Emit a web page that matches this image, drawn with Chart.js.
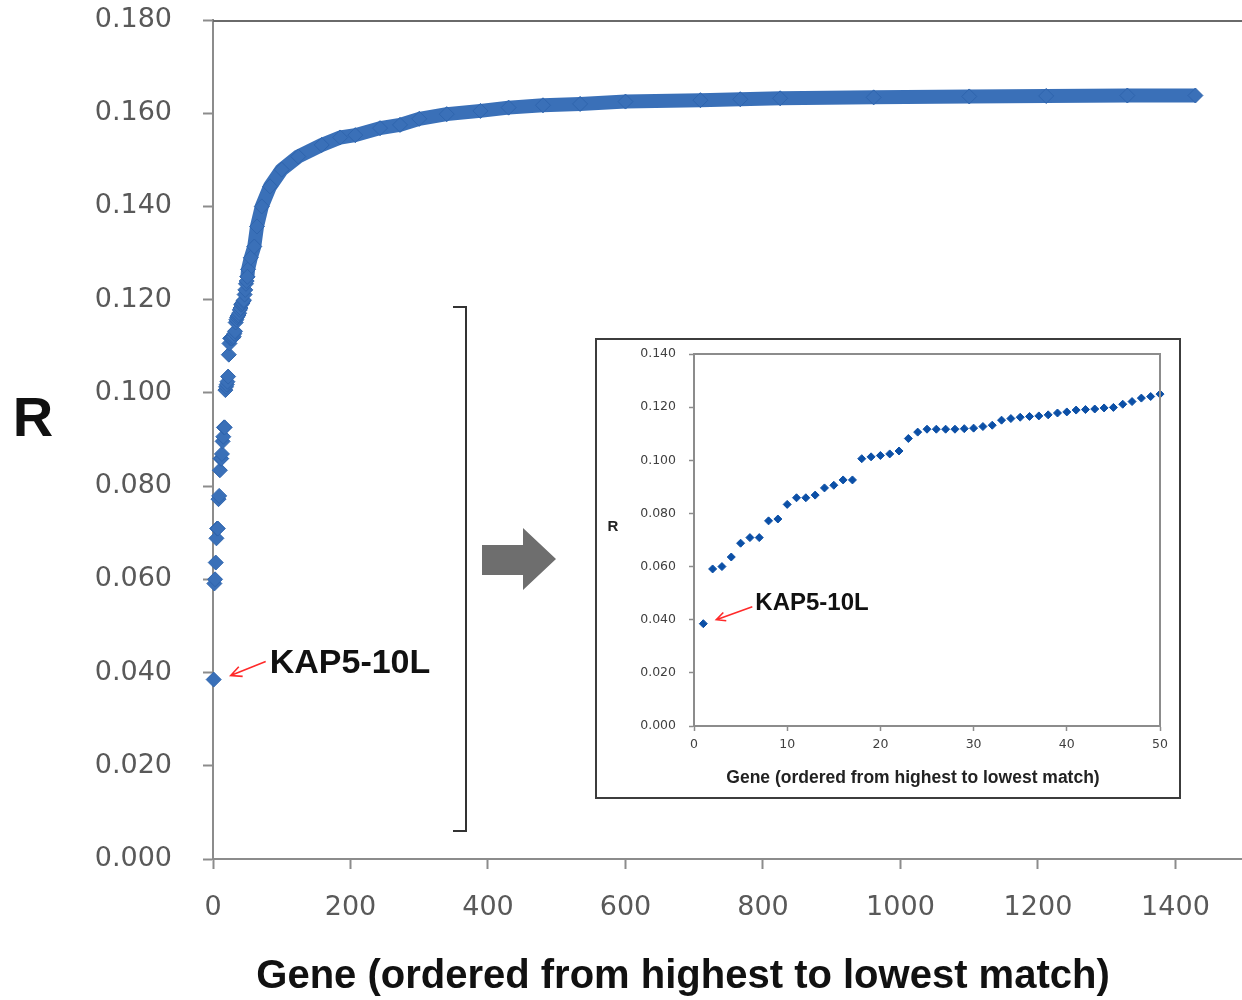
<!DOCTYPE html>
<html>
<head>
<meta charset="utf-8">
<script src="https://cdn.jsdelivr.net/npm/chart.js@4.4.1/dist/chart.umd.min.js"></script>
<style>
  body { margin: 0; background: #fff; overflow: hidden; width: 1242px; height: 1000px; position: relative; }
  #main { position: absolute; left: 0; top: 0; }
  #inset-box {
    position: absolute; left: 595px; top: 338px; width: 586px; height: 461px;
    border: 2px solid #3c3c3c; box-sizing: border-box; background: #fff;
  }
</style>
</head>
<body>
<!-- a bit wider than the window: the plot frame runs off the right edge as in the original -->
<canvas id="main" width="1251" height="1000"></canvas>
<div id="inset-box"><canvas id="inset" width="582" height="457"></canvas></div>
<script>
// R for the 50 best matching genes (rank 1..50)
const TOP_R = [
  0.0385, 0.0591, 0.0600, 0.0636, 0.0688, 0.0709, 0.0709, 0.0772, 0.0779, 0.0834,
  0.0859, 0.0859, 0.0869, 0.0896, 0.0906, 0.0926, 0.0926, 0.1006, 0.1013, 0.1018,
  0.1024, 0.1035, 0.1082, 0.1106, 0.1117, 0.1117, 0.1117, 0.1117, 0.1119, 0.1121,
  0.1127, 0.1132, 0.1151, 0.1157, 0.1162, 0.1165, 0.1167, 0.1171, 0.1178, 0.1182,
  0.1189, 0.1191, 0.1193, 0.1197, 0.1199, 0.1211, 0.1221, 0.1234, 0.1240, 0.1249
];

// rest of the curve, read at some ranks off the main chart
const TAIL_GENE = [51, 55, 60, 64, 71, 83, 100, 124, 158, 185, 207, 243, 272, 300,
  340, 389, 430, 480, 534, 600, 709, 767, 825, 961, 1100, 1212, 1330, 1429];
const TAIL_R = [0.1265, 0.1290, 0.1314, 0.1357, 0.1400, 0.1443, 0.1479, 0.1507, 0.1532,
  0.1548, 0.1553, 0.1568, 0.1575, 0.1588, 0.1598, 0.1605, 0.1612, 0.1617, 0.1620,
  0.1625, 0.1628, 0.1630, 0.1632, 0.1634, 0.1636, 0.1637, 0.1638, 0.1638];

const X_TITLE = 'Gene (ordered from highest to lowest match)';
const LABEL = 'KAP5-10L';

const BLUE = '#3a70b8';
const INSET_BLUE = '#0b4fa6';
const BOLD = '"Liberation Sans", Arial, sans-serif';
const TICK_FONT = 'DejaVu Sans';

const topPoints = TOP_R.map((r, i) => ({ x: i + 1, y: r }));
const tailPoints = [{ x: 50, y: TOP_R[49] }].concat(TAIL_GENE.map((g, i) => ({ x: g, y: TAIL_R[i] })));

function redArrow(ctx, x1, y1, x2, y2, head) {
    const a = Math.atan2(y2 - y1, x2 - x1);
    ctx.strokeStyle = '#ff2a2a';
    ctx.lineWidth = 1.6;
    ctx.beginPath();
    ctx.moveTo(x1, y1);
    ctx.lineTo(x2, y2);
    ctx.moveTo(x2 - head * Math.cos(a - 0.45), y2 - head * Math.sin(a - 0.45));
    ctx.lineTo(x2, y2);
    ctx.lineTo(x2 - head * Math.cos(a + 0.45), y2 - head * Math.sin(a + 0.45));
    ctx.stroke();
}

// fixed axis sizes, no extra room for the end labels
function fixY(width) {
    return s => { s.width = width; s.paddingTop = 0; s.paddingBottom = 0; };
}
function fixX(height) {
    return s => { s.height = height; s.paddingLeft = 0; s.paddingRight = 0; };
}

// ========== MAIN CHART ==========
const mainDecor = {
    id: 'mainDecor',
    afterDraw(chart) {
        const { ctx, chartArea, scales } = chart;
        ctx.save();
        // top frame
        ctx.strokeStyle = '#6a6a6a';
        ctx.lineWidth = 2;
        ctx.beginPath();
        ctx.moveTo(chartArea.left, chartArea.top + 1);
        ctx.lineTo(chartArea.right, chartArea.top + 1);
        ctx.stroke();

        // titles
        ctx.fillStyle = '#111';
        ctx.textAlign = 'center';
        ctx.textBaseline = 'middle';
        ctx.font = 'bold 56px ' + BOLD;
        ctx.fillText('R', 33, 421);
        ctx.font = 'bold 40px ' + BOLD;
        ctx.fillText(X_TITLE, 683, 977);

        // KAP5-10L callout
        const px = scales.x.getPixelForValue(1);
        const py = scales.y.getPixelForValue(TOP_R[0]);
        redArrow(ctx, px + 52, py - 18, px + 17, py - 4, 12);
        ctx.fillStyle = '#111';
        ctx.textAlign = 'left';
        ctx.font = 'bold 34px ' + BOLD;
        ctx.fillText(LABEL, px + 56, py - 16);

        // bracket
        ctx.strokeStyle = '#333';
        ctx.lineWidth = 2;
        ctx.beginPath();
        ctx.moveTo(453, 307);
        ctx.lineTo(466, 307);
        ctx.lineTo(466, 831);
        ctx.lineTo(453, 831);
        ctx.stroke();

        // grey block arrow
        ctx.fillStyle = '#6e6e6e';
        ctx.beginPath();
        ctx.moveTo(482, 545);
        ctx.lineTo(523, 545);
        ctx.lineTo(523, 528);
        ctx.lineTo(556, 559);
        ctx.lineTo(523, 590);
        ctx.lineTo(523, 575);
        ctx.lineTo(482, 575);
        ctx.closePath();
        ctx.fill();
        ctx.restore();
    }
};

new Chart(document.getElementById('main'), {
    type: 'scatter',
    data: {
        datasets: [
            {
                data: topPoints,
                showLine: false,
                pointStyle: 'rectRot',
                pointRadius: 7.5,
                pointBackgroundColor: BLUE,
                pointBorderColor: '#2f65ae',
                pointBorderWidth: 1,
                clip: false
            },
            {
                data: tailPoints,
                showLine: true,
                borderColor: BLUE,
                borderWidth: 14,
                borderJoinStyle: 'round',
                tension: 0,
                pointStyle: 'rectRot',
                pointRadius: 7.5,
                pointBackgroundColor: BLUE,
                pointBorderColor: '#2f65ae',
                pointBorderWidth: 1,
                clip: false
            }
        ]
    },
    options: {
        responsive: false,
        animation: false,
        devicePixelRatio: 1,
        layout: { padding: { top: 20, right: 0, bottom: 0, left: 0 } },
        plugins: { legend: { display: false }, tooltip: { enabled: false } },
        scales: {
            x: {
                type: 'linear',
                min: 0,
                max: 1497.5,
                afterFit: fixX(141),
                border: { color: '#8c8c8c', width: 2 },
                grid: { drawOnChartArea: false, tickLength: 10, tickColor: '#8c8c8c', tickWidth: 2 },
                ticks: {
                    stepSize: 200,
                    includeBounds: false,
                    maxRotation: 0,
                    padding: 23,
                    color: '#595959',
                    font: { family: TICK_FONT, size: 27 },
                    callback: v => String(v)
                }
            },
            y: {
                min: 0,
                max: 0.18,
                afterFit: fixY(213),
                border: { color: '#8c8c8c', width: 2 },
                grid: { drawOnChartArea: false, tickLength: 10, tickColor: '#8c8c8c', tickWidth: 2 },
                ticks: {
                    stepSize: 0.02,
                    padding: 31,
                    color: '#595959',
                    font: { family: TICK_FONT, size: 27 },
                    callback: v => v.toFixed(3)
                }
            }
        }
    },
    plugins: [mainDecor]
});

// ========== INSET (first 50 genes) ==========
const insetDecor = {
    id: 'insetDecor',
    afterDraw(chart) {
        const { ctx, chartArea, scales } = chart;
        ctx.save();
        ctx.strokeStyle = '#8c8c8c';
        ctx.lineWidth = 2;
        ctx.beginPath();
        ctx.moveTo(chartArea.left, chartArea.top);
        ctx.lineTo(chartArea.right, chartArea.top);
        ctx.lineTo(chartArea.right, chartArea.bottom);
        ctx.stroke();

        ctx.fillStyle = '#222';
        ctx.textAlign = 'center';
        ctx.textBaseline = 'middle';
        ctx.font = 'bold 15px ' + BOLD;
        ctx.fillText('R', 16, 187);
        ctx.font = 'bold 17.5px ' + BOLD;
        ctx.fillText(X_TITLE, 316, 438);

        const px = scales.x.getPixelForValue(1);
        const py = scales.y.getPixelForValue(TOP_R[0]);
        redArrow(ctx, px + 49, py - 17, px + 13, py - 4, 10);
        ctx.fillStyle = '#111';
        ctx.textAlign = 'left';
        ctx.font = 'bold 24px ' + BOLD;
        ctx.fillText(LABEL, px + 52, py - 20);
        ctx.restore();
    }
};

new Chart(document.getElementById('inset'), {
    type: 'scatter',
    data: {
        datasets: [{
            data: topPoints,
            showLine: false,
            pointStyle: 'rectRot',
            pointRadius: 4,
            pointBackgroundColor: INSET_BLUE,
            pointBorderColor: INSET_BLUE,
            pointBorderWidth: 1,
            clip: false
        }]
    },
    options: {
        responsive: false,
        animation: false,
        devicePixelRatio: 1,
        layout: { padding: { top: 14, right: 19, bottom: 0, left: 0 } },
        plugins: { legend: { display: false }, tooltip: { enabled: false } },
        scales: {
            x: {
                type: 'linear',
                min: 0,
                max: 50,
                afterFit: s => { s.height = 71; },
                border: { color: '#8c8c8c', width: 2 },
                grid: { drawOnChartArea: false, tickLength: 5, tickColor: '#8c8c8c', tickWidth: 1.5 },
                ticks: {
                    stepSize: 10,
                    maxRotation: 0,
                    padding: 6.5,
                    color: '#404040',
                    font: { family: TICK_FONT, size: 12.5 }
                }
            },
            y: {
                min: 0,
                max: 0.14,
                afterFit: fixY(97),
                border: { color: '#8c8c8c', width: 2 },
                grid: { drawOnChartArea: false, tickLength: 5, tickColor: '#8c8c8c', tickWidth: 1.5 },
                ticks: {
                    stepSize: 0.02,
                    padding: 13,
                    color: '#404040',
                    font: { family: TICK_FONT, size: 12.5 },
                    callback: v => v.toFixed(3)
                }
            }
        }
    },
    plugins: [insetDecor]
});
</script>
</body>
</html>
